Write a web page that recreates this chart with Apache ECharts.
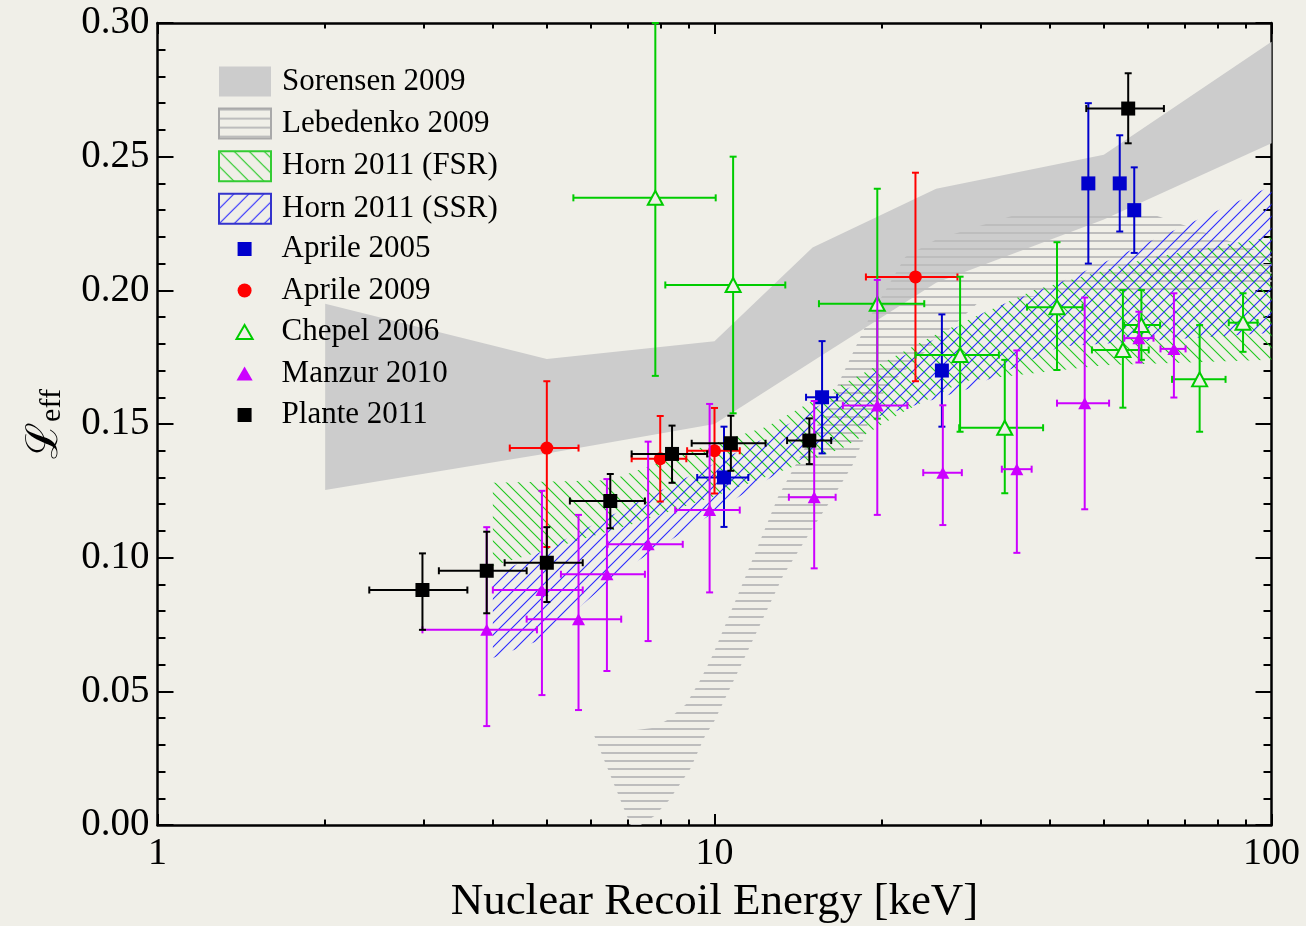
<!DOCTYPE html>
<html>
<head>
<meta charset="utf-8">
<script src="https://cdn.jsdelivr.net/npm/echarts@6/dist/echarts.min.js"></script>
<style>
  html, body { margin: 0; padding: 0; background: #f0efe8; }
  #chart { width: 1306px; height: 926px; }
</style>
</head>
<body>
<div id="chart"></div>
<script>
// ---- Axis ticks ----
const xMajorTicks = [1, 10, 100];
const xMinorTicks = [2, 3, 4, 5, 6, 7, 8, 9, 20, 30, 40, 50, 60, 70, 80, 90];
const yTicks = [0, 0.05, 0.10, 0.15, 0.20, 0.25, 0.30];

// ---- Bands: [energy keV, Leff] ----
const sorensenUpper = [[2, 0.195], [5, 0.1743], [10, 0.181], [15, 0.216], [25, 0.238], [50, 0.2507], [100, 0.293]];
const sorensenLower = [[2, 0.1253], [5, 0.139], [10, 0.150], [15, 0.1735], [25, 0.2028], [50, 0.2265], [100, 0.255]];

const lebedenkoUpper = [[7.07, 0], [6.08, 0.0335], [7.73, 0.0363], [8.23, 0.0393], [8.9, 0.0453], [9.43, 0.0542],
  [9.91, 0.0632], [11.4, 0.0935], [13.0, 0.1227], [16.0, 0.157], [19.0, 0.19], [22.0, 0.2125], [25, 0.219],
  [34.4, 0.228], [62, 0.228], [100, 0.213]];
const lebedenkoLower = [[7.37, 0], [7.8, 0.0034], [8.3, 0.0094], [9.05, 0.021], [9.6, 0.033], [10.0, 0.039],
  [11.35, 0.063], [13.3, 0.0935], [15.0, 0.111], [16.7, 0.126], [17.7, 0.1347], [18.5, 0.144], [19.2, 0.156],
  [20.7, 0.165], [29.6, 0.195], [38.5, 0.198], [100, 0.2013]];

const hornFsrUpper = [[4, 0.128], [6.5, 0.129], [9.4, 0.141], [12.4, 0.149], [17, 0.165], [24.7, 0.183], [37.4, 0.2], [60, 0.212], [100, 0.22]];
const hornFsrLower = [[4, 0.097], [7, 0.112], [10, 0.123], [17, 0.141], [21.6, 0.154], [28, 0.166], [50, 0.172], [100, 0.174]];

const hornSsrUpper = [[4, 0.093], [6.7, 0.117], [12.4, 0.145], [16.3, 0.16], [21.6, 0.175], [31.3, 0.193], [41.8, 0.203], [100, 0.239]];
const hornSsrLower = [[4, 0.0625], [4.87, 0.0692], [6.86, 0.0954], [11.3, 0.124], [18.8, 0.1515], [28.4, 0.163], [41.8, 0.179], [100, 0.184]];

// ---- Measurements: [energy, Leff, energy low, energy high, Leff low, Leff high] ----
const aprile2005 = [
  [10.4, 0.130, 9.31, 11.5, 0.1115, 0.149],
  [15.6, 0.160, 14.6, 16.6, 0.139, 0.181],
  [25.6, 0.170, 25.6, 25.6, 0.149, 0.191],
  [46.9, 0.240, 46.9, 46.9, 0.210, 0.270],
  [53.4, 0.240, 53.4, 53.4, 0.222, 0.258],
  [56.7, 0.230, 56.7, 56.7, 0.214, 0.246]
];
const aprile2009 = [
  [5.0, 0.141, 4.29, 5.7, 0.104, 0.166],
  [7.99, 0.137, 7.1, 8.9, 0.121, 0.153],
  [10.0, 0.140, 8.93, 11.1, 0.124, 0.156],
  [22.95, 0.205, 18.7, 27.3, 0.166, 0.244]
];
const chepel2006 = [
  [7.83, 0.2346, 5.58, 10.05, 0.168, 0.30],
  [10.8, 0.202, 8.16, 13.4, 0.154, 0.250],
  [19.6, 0.195, 15.4, 23.8, 0.152, 0.238],
  [27.6, 0.1758, 22.95, 32.4, 0.1471, 0.2051],
  [33.2, 0.1486, 27.5, 38.9, 0.1241, 0.174],
  [41.2, 0.1937, 36.4, 45.8, 0.1702, 0.218],
  [54.1, 0.1777, 47.6, 60.2, 0.1561, 0.2001],
  [58.4, 0.187, 54.4, 63.1, 0.174, 0.2001],
  [74.3, 0.1667, 66.3, 82.7, 0.1471, 0.187],
  [88.9, 0.1879, 83.8, 94.4, 0.177, 0.1989]
];
const manzur2010 = [
  [3.9, 0.073, 2.99, 4.8, 0.037, 0.1114],
  [4.9, 0.0879, 4.0, 5.8, 0.0486, 0.125],
  [5.7, 0.077, 4.6, 6.8, 0.043, 0.116],
  [6.41, 0.0938, 5.3, 7.5, 0.0576, 0.1294],
  [7.6, 0.105, 6.43, 8.77, 0.0688, 0.1434],
  [9.8, 0.1178, 8.5, 11.1, 0.087, 0.1575],
  [15.1, 0.1226, 13.6, 16.5, 0.096, 0.1586],
  [19.6, 0.1569, 17.0, 22.2, 0.116, 0.2039],
  [25.7, 0.1318, 23.7, 27.8, 0.1122, 0.157],
  [34.9, 0.1331, 32.8, 37.1, 0.1018, 0.1775],
  [46.2, 0.1578, 41.2, 51.1, 0.1181, 0.1973],
  [57.8, 0.1821, 54.4, 61.4, 0.173, 0.192],
  [66.8, 0.1781, 63.2, 70.1, 0.1599, 0.1989]
];
const plante2011 = [
  [2.99, 0.0879, 2.4, 3.6, 0.073, 0.1016],
  [3.9, 0.0951, 3.2, 4.6, 0.0792, 0.1097],
  [5.0, 0.0981, 4.2, 5.8, 0.0834, 0.1114],
  [6.5, 0.1212, 5.5, 7.5, 0.111, 0.1313],
  [8.39, 0.1388, 7.1, 9.7, 0.128, 0.1494],
  [10.7, 0.1428, 9.1, 12.35, 0.1325, 0.1531],
  [14.8, 0.1438, 13.5, 16.2, 0.135, 0.1521],
  [55.3, 0.268, 46.5, 64.1, 0.255, 0.2812]
];

const BG = '#f0efe8';
const SERIF = '"Liberation Serif", "DejaVu Serif", serif';

// Tiled hatch fill: 'h' horizontal, 'back' = "\", 'fwd' = "/"
function hatch(kind, color, size, width) {
  const c = document.createElement('canvas');
  c.width = size; c.height = size;
  const g = c.getContext('2d');
  if (kind === 'h') {
    g.fillStyle = color;
    g.fillRect(0, 0, size, width);
  } else {
    g.strokeStyle = color; g.lineWidth = width; g.beginPath();
    if (kind === 'back') {
      g.moveTo(-2, -2); g.lineTo(size + 2, size + 2);
      g.moveTo(-2, size - 2); g.lineTo(2, size + 2);
      g.moveTo(size - 2, -2); g.lineTo(size + 2, 2);
    } else {
      g.moveTo(-2, size + 2); g.lineTo(size + 2, -2);
      g.moveTo(-2, 2); g.lineTo(2, -2);
      g.moveTo(size - 2, size + 2); g.lineTo(size + 2, size - 2);
    }
    g.stroke();
  }
  return { image: c, repeat: 'repeat' };
}

const lebFill = hatch('h', '#bdbdbd', 8, 2);
const fsrFill = hatch('back', '#1fc81f', 12, 1.1);
const ssrFill = hatch('fwd', '#2a2aff', 12, 1.1);
const lebIcon = hatch('h', '#bdbdbd', 9, 2);
const fsrIcon = hatch('back', '#1fc81f', 15, 1.1);
const ssrIcon = hatch('fwd', '#2a2aff', 15, 1.1);

function bandSeries(name, upper, lower, style, z) {
  return {
    type: 'custom', name: name, z: z, silent: true,
    xAxisIndex: 0, yAxisIndex: 0,
    data: upper.concat(lower),
    renderItem: function (params, api) {
      if (params.dataIndex !== 0) return null;
      const pts = upper.concat(lower.slice().reverse()).map(function (p) { return api.coord(p); });
      return { type: 'polygon', shape: { points: pts }, style: style };
    }
  };
}

function errorBars(name, rows, color, z) {
  return {
    type: 'custom', name: name, z: z, silent: true,
    xAxisIndex: 0, yAxisIndex: 0,
    data: rows,
    encode: { x: [0, 2, 3], y: [1, 4, 5] },
    renderItem: function (params, api) {
      const x = api.value(0), y = api.value(1);
      const x0 = api.value(2), x1 = api.value(3), y0 = api.value(4), y1 = api.value(5);
      const a = api.coord([x0, y]), b = api.coord([x1, y]);
      const lo = api.coord([x, y0]), hi = api.coord([x, y1]);
      const cap = 3.5;
      const st = { stroke: color, lineWidth: 2, fill: null };
      const kids = [];
      const seg = function (p, q) {
        kids.push({ type: 'line', shape: { x1: p[0], y1: p[1], x2: q[0], y2: q[1] }, style: st });
      };
      if (x1 > x0) {
        seg(a, b);
        seg([a[0], a[1] - cap], [a[0], a[1] + cap]);
        seg([b[0], b[1] - cap], [b[0], b[1] + cap]);
      }
      if (y1 > y0) {
        seg(lo, hi);
        seg([lo[0] - cap, lo[1]], [lo[0] + cap, lo[1]]);
        seg([hi[0] - cap, hi[1]], [hi[0] + cap, hi[1]]);
      }
      return { type: 'group', children: kids };
    }
  };
}

function markers(name, rows, symbol, size, itemStyle, z) {
  itemStyle.opacity = 1;
  return {
    type: 'scatter', name: name, z: z, silent: true,
    xAxisIndex: 0, yAxisIndex: 0,
    data: rows.map(function (r) { return [r[0], r[1]]; }),
    symbol: symbol, symbolSize: size, itemStyle: itemStyle
  };
}

const SQUARE = 'path://M0,0H10V10H0Z';
const TRI = 'path://M0,13L7.5,0L15,13Z';

const axisLine = { show: true, lineStyle: { color: '#000', width: 2.5 } };

const option = {
  backgroundColor: BG,
  animation: false,
  grid: { left: 157.5, right: 34.5, top: 23, bottom: 101, outerBoundsMode: 'none', containLabel: false },
  xAxis: [
    {
      type: 'log', logBase: 10, min: 1, max: 100, position: 'bottom',
      axisLine: axisLine,
      axisTick: { inside: true, length: 11, customValues: xMajorTicks, lineStyle: { width: 2, color: '#000' } },
      axisLabel: { customValues: xMajorTicks, fontFamily: SERIF, fontSize: 38, color: '#000', margin: 10 },
      splitLine: { show: false },
      name: 'Nuclear Recoil Energy [keV]', nameLocation: 'middle', nameGap: 55,
      nameTextStyle: { fontFamily: SERIF, fontSize: 45, color: '#000' }
    },
    {
      type: 'log', logBase: 10, min: 1, max: 100, position: 'bottom',
      axisLine: { show: false },
      axisTick: { inside: true, length: 5.5, customValues: xMinorTicks, lineStyle: { width: 2, color: '#000' } },
      axisLabel: { show: false }, splitLine: { show: false }
    },
    {
      type: 'log', logBase: 10, min: 1, max: 100, position: 'top',
      axisLine: axisLine,
      axisTick: { inside: true, length: 11, customValues: xMajorTicks, lineStyle: { width: 2, color: '#000' } },
      axisLabel: { show: false }, splitLine: { show: false }
    },
    {
      type: 'log', logBase: 10, min: 1, max: 100, position: 'top',
      axisLine: { show: false },
      axisTick: { inside: true, length: 5.5, customValues: xMinorTicks, lineStyle: { width: 2, color: '#000' } },
      axisLabel: { show: false }, splitLine: { show: false }
    }
  ],
  yAxis: [
    {
      type: 'value', min: 0, max: 0.30, interval: 0.05, position: 'left',
      axisLine: axisLine,
      axisTick: { inside: true, length: 16, lineStyle: { width: 2, color: '#000' } },
      minorTick: { show: true, splitNumber: 5, length: 8, lineStyle: { width: 2, color: '#000' } },
      axisLabel: {
        customValues: yTicks, fontFamily: SERIF, fontSize: 39, color: '#000', margin: 8,
        formatter: function (v) { return v.toFixed(2); }
      },
      splitLine: { show: false },
      name: '{a|ℒ}{b|eff}', nameLocation: 'middle', nameGap: 90,
      nameTextStyle: {
        rich: {
          a: { fontFamily: '"DejaVu Serif", serif', fontSize: 44, color: '#000', verticalAlign: 'bottom' },
          b: { fontFamily: SERIF, fontSize: 30, color: '#000', verticalAlign: 'bottom', padding: [12, 0, 0, 0] }
        }
      }
    },
    {
      type: 'value', min: 0, max: 0.30, interval: 0.05, position: 'right',
      axisLine: axisLine,
      axisTick: { inside: true, length: 16, lineStyle: { width: 2, color: '#000' } },
      minorTick: { show: true, splitNumber: 5, length: 8, lineStyle: { width: 2, color: '#000' } },
      axisLabel: { show: false }, splitLine: { show: false }
    }
  ],
  legend: [
    {
      orient: 'vertical', left: 218, top: 66, padding: 0,
      itemWidth: 52, itemHeight: 30, itemGap: 10.6, selectedMode: false,
      textStyle: { fontFamily: SERIF, fontSize: 31, lineHeight: 31, color: '#000', padding: [0, 0, 0, 6] },
      data: [
        { name: 'Sorensen 2009', icon: 'rect', itemStyle: { color: '#cccccc', borderWidth: 0 } },
        { name: 'Lebedenko 2009', icon: 'rect', itemStyle: { color: lebIcon, borderColor: '#a9a9a9', borderWidth: 2 } },
        { name: 'Horn 2011 (FSR)', icon: 'rect', itemStyle: { color: fsrIcon, borderColor: '#33cc33', borderWidth: 2 } },
        { name: 'Horn 2011 (SSR)', icon: 'rect', itemStyle: { color: ssrIcon, borderColor: '#3333cc', borderWidth: 2 } }
      ]
    },
    {
      orient: 'vertical', left: 235.5, top: 233.5, padding: 0,
      itemWidth: 52, itemHeight: 14, itemGap: 10.5, selectedMode: false,
      textStyle: { fontFamily: SERIF, fontSize: 31, lineHeight: 31, color: '#000', padding: [0, 0, 0, 6] },
      data: [
        { name: 'Aprile 2005', icon: SQUARE, itemStyle: { color: '#0000cc', borderWidth: 0, opacity: 1 } },
        { name: 'Aprile 2009', icon: 'circle', itemStyle: { color: '#ff0000', borderWidth: 0, opacity: 1 } },
        { name: 'Chepel 2006', icon: TRI, itemStyle: { color: BG, borderColor: '#00cc00', borderWidth: 2, opacity: 1 } },
        { name: 'Manzur 2010', icon: TRI, itemStyle: { color: '#cc00ff', borderWidth: 0, opacity: 1 } },
        { name: 'Plante 2011', icon: SQUARE, itemStyle: { color: '#000000', borderWidth: 0, opacity: 1 } }
      ]
    }
  ],
  series: [
    bandSeries('Sorensen 2009', sorensenUpper, sorensenLower, { fill: '#cccccc', stroke: null }, 1),
    bandSeries('Lebedenko 2009', lebedenkoUpper, lebedenkoLower, { fill: lebFill, stroke: null }, 2),
    bandSeries('Horn 2011 (FSR)', hornFsrUpper, hornFsrLower, { fill: fsrFill, stroke: null }, 3),
    bandSeries('Horn 2011 (SSR)', hornSsrUpper, hornSsrLower, { fill: ssrFill, stroke: null }, 4),

    errorBars('Aprile 2005 bars', aprile2005, '#0000cc', 10),
    markers('Aprile 2005', aprile2005, 'rect', 14, { color: '#0000cc' }, 11),
    errorBars('Aprile 2009 bars', aprile2009, '#ff0000', 12),
    markers('Aprile 2009', aprile2009, 'circle', 13, { color: '#ff0000' }, 13),
    errorBars('Chepel 2006 bars', chepel2006, '#00cc00', 14),
    markers('Chepel 2006', chepel2006, 'triangle', [15, 14], { color: BG, borderColor: '#00cc00', borderWidth: 2 }, 15),
    errorBars('Manzur 2010 bars', manzur2010, '#cc00ff', 16),
    markers('Manzur 2010', manzur2010, 'triangle', [13, 12], { color: '#cc00ff' }, 17),
    errorBars('Plante 2011 bars', plante2011, '#000000', 18),
    markers('Plante 2011', plante2011, 'rect', 14, { color: '#000000' }, 19)
  ]
};

const chart = echarts.init(document.getElementById('chart'), null, { renderer: 'canvas' });
chart.setOption(option);
</script>
</body>
</html>
